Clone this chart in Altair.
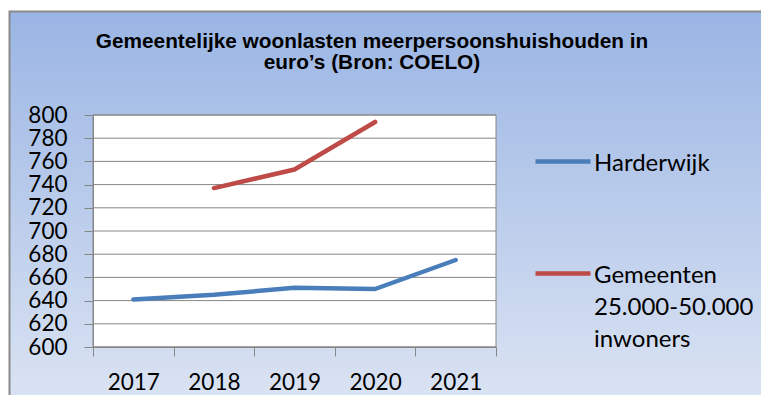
import altair as alt
import pandas as pd

# ---- data ----
years = ["2017", "2018", "2019", "2020", "2021"]
harderwijk = [641, 645, 651, 650, 675]
gemeenten = [None, 737, 753, 794, None]
series_names = ["Harderwijk", "Gemeenten 25.000-50.000 inwoners"]
series_colors = ["#4a7ebb", "#be4b48"]
y_ticks = [600, 620, 640, 660, 680, 700, 720, 740, 760, 780, 800]
title_lines = ["Gemeentelijke woonlasten meerpersoonshuishouden in",
               "euro\u2019s (Bron: COELO)"]

rows = []
for yr, h, g in zip(years, harderwijk, gemeenten):
    rows.append({"jaar": yr, "reeks": series_names[0], "waarde": h})
    if g is not None:
        rows.append({"jaar": yr, "reeks": series_names[1], "waarde": g})
df = pd.DataFrame(rows)
grid_df = pd.DataFrame({"waarde": y_ticks})
one = pd.DataFrame({"a": [0]})

W, H = 403, 232
GREY = "#868686"
yscale = alt.Scale(domain=[600, 800], nice=False, zero=False)
y_axis = alt.Axis(title=None, values=y_ticks, grid=False,
                  labelFont="Lato", labelFontSize=22.5, labelColor="black",
                  labelPadding=17, tickSize=9, tickColor=GREY, domainColor=GREY,
                  zindex=1)

bg = alt.Chart(one).mark_rect(
    fill=alt.LinearGradient(
        gradient="linear", x1=0, y1=0, x2=0, y2=1,
        stops=[alt.GradientStop(color="#9ab5e4", offset=0),
               alt.GradientStop(color="#dde5f3", offset=1)]),
    stroke="#8a8a8a", strokeWidth=2,
).encode(x=alt.value(-83.5), x2=alt.value(W + 290),
         y=alt.value(-103.5), y2=alt.value(H + 70))

plot_bg = alt.Chart(one).mark_rect(fill="white", stroke=GREY, strokeWidth=1).encode(
    x=alt.value(0), x2=alt.value(W), y=alt.value(0), y2=alt.value(H))

grid = alt.Chart(grid_df).mark_rule(color=GREY, strokeWidth=1).encode(
    y=alt.Y("waarde:Q", scale=yscale, axis=y_axis))

lines = alt.Chart(df).mark_line(strokeWidth=4.5, strokeCap="round", strokeJoin="round").encode(
    x=alt.X("jaar:O", sort=years,
            scale=alt.Scale(type="band", paddingInner=0, paddingOuter=0),
            axis=alt.Axis(title=None, labelAngle=0, tickBand="extent",
                          labelFont="Lato", labelFontSize=22.5, labelColor="black",
                          labelPadding=15, tickSize=9, tickColor=GREY, domainColor=GREY,
                          grid=False, zindex=1)),
    y=alt.Y("waarde:Q", scale=yscale, axis=y_axis),
    color=alt.Color("reeks:N",
                    scale=alt.Scale(domain=series_names, range=series_colors),
                    legend=alt.Legend(orient="none", legendX=440, legendY=7, title=None,
                                      symbolType="M-1,0.345H1", symbolSize=3025,
                                      symbolStrokeWidth=4.5,
                                      labelFont="Lato", labelFontSize=24, labelColor="black",
                                      labelBaseline="top", labelOffset=1, labelLimit=300,
                                      labelExpr="split(datum.label, ' ')",
                                      rowPadding=58, padding=0)),
)

chart = alt.layer(bg, plot_bg, grid, lines).properties(
    width=W, height=H,
    padding={"left": 85, "top": 107, "right": 265, "bottom": 48},
    autosize=alt.AutoSizeParams(type="none"),
    title=alt.TitleParams(text=title_lines, font="Liberation Sans", fontSize=20.8,
                          fontWeight="bold", color="black", anchor="middle", frame="group",
                          dx=77.5, offset=0, dy=79.5, baseline="alphabetic", lineHeight=21),
).configure_view(stroke=None).configure(
    background="white",
    style={"guide-label": {"lineHeight": 32}},
)

chart.save("out.html", embed_options={"renderer": "svg", "actions": False})
